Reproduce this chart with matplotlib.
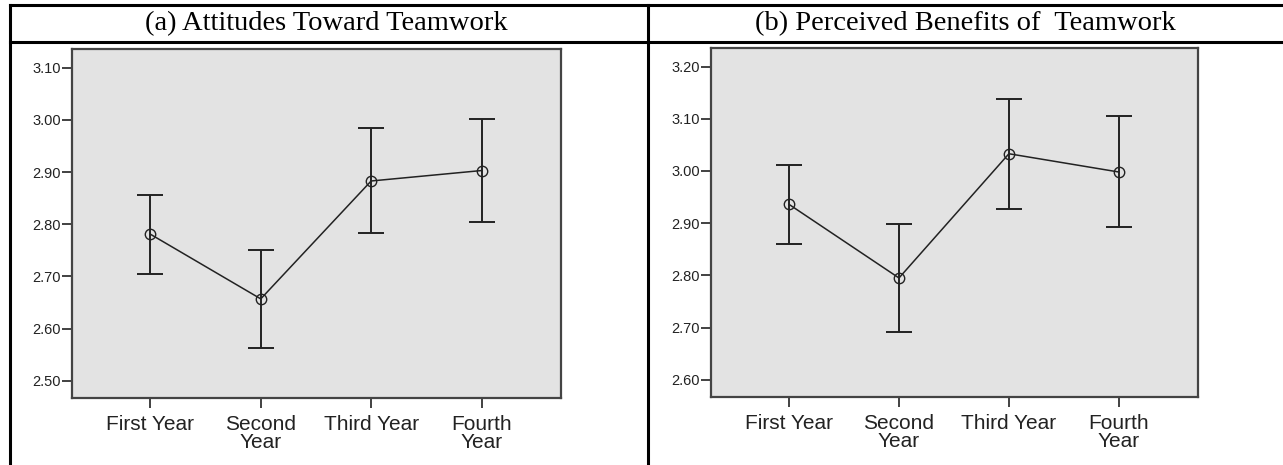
import numpy as np
import matplotlib.pyplot as plt
from matplotlib.lines import Line2D

# Data (means and error bar ends)
years = ["First Year", "Second\nYear", "Third Year", "Fourth\nYear"]

att_mean = [2.781, 2.657, 2.883, 2.903]
att_low = [2.705, 2.563, 2.783, 2.805]
att_high = [2.857, 2.751, 2.984, 3.001]
att_ticks = [2.50, 2.60, 2.70, 2.80, 2.90, 3.00, 3.10]

ben_mean = [2.936, 2.795, 3.033, 2.998]
ben_low = [2.860, 2.691, 2.927, 2.892]
ben_high = [3.012, 2.899, 3.137, 3.105]
ben_ticks = [2.60, 2.70, 2.80, 2.90, 3.00, 3.10, 3.20]

titles = ["(a) Attitudes Toward Teamwork", "(b) Perceived Benefits of  Teamwork"]

W, H = 1283, 465
fig = plt.figure(figsize=(W / 100, H / 100), dpi=100)

# table frame round the two panels
def fx(px):
    return px / W

def fy(py):
    return 1 - py / H

for xs, ys in [([10, 1283], [5, 5]), ([10, 1283], [42, 42]),
               ([10, 10], [5, 465]), ([648, 648], [5, 465])]:
    fig.add_artist(Line2D([fx(x) for x in xs], [fy(y) for y in ys],
                          color="black", lw=2.2, transform=fig.transFigure))

fig.text(fx(326), fy(24), titles[0], ha="center", va="center",
         family="Liberation Serif", fontsize=20.5)
fig.text(fx(965), fy(24), titles[1], ha="center", va="center",
         family="Liberation Serif", fontsize=20.5)


def panel(rect, mean, low, high, ticks, ylim):
    ax = fig.add_axes(rect)
    ax.set_facecolor("#e3e3e3")
    x = np.arange(len(mean))
    mean = np.asarray(mean)
    err = [mean - np.asarray(low), np.asarray(high) - mean]
    ax.errorbar(x, mean, yerr=err, fmt="none", ecolor="#222222",
                elinewidth=1.4, capsize=9.7, capthick=1.4)
    ax.plot(x, mean, color="#222222", lw=1.1, marker="o", ms=7.5,
            mfc="none", mec="#222222", mew=1.0)
    ax.set_xlim(-0.71, 3.72)
    ax.set_ylim(*ylim)
    ax.set_xticks(x)
    ax.set_xticklabels(years, fontsize=15, family="Liberation Sans",
                       linespacing=0.95, color="#222222")
    ax.set_yticks(ticks)
    ax.set_yticklabels(["%.2f" % t for t in ticks], fontsize=10.5,
                       family="Liberation Sans", color="#222222")
    ax.tick_params(axis="y", length=7, width=1.3, color="#333333", pad=1)
    ax.tick_params(axis="x", length=7, width=1.3, color="#333333", pad=5)
    for s in ax.spines.values():
        s.set_color("#444444")
        s.set_linewidth(1.6)
    return ax


panel([fx(72), fy(398), fx(561) - fx(72), fy(49) - fy(398)],
      att_mean, att_low, att_high, att_ticks, (2.467, 3.136))
panel([fx(711), fy(397), fx(1198) - fx(711), fy(48.3) - fy(397)],
      ben_mean, ben_low, ben_high, ben_ticks, (2.567, 3.235))

plt.savefig("out.png", dpi=100)
